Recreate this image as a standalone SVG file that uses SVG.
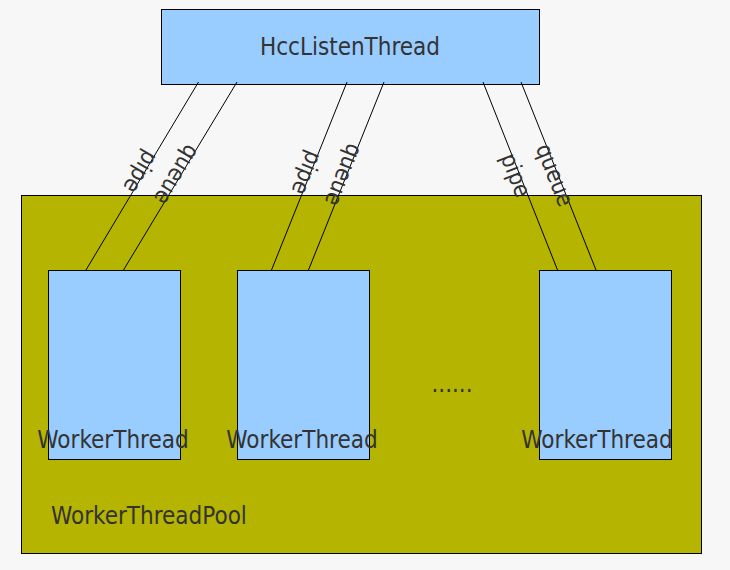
<svg xmlns="http://www.w3.org/2000/svg" width="730" height="570" viewBox="0 0 730 570">
<style>
.box{fill:#99ccff;stroke:#000;stroke-width:1}
.t{font-family:"DejaVu Sans Condensed","DejaVu Sans",sans-serif;font-size:24px;fill:#333333;font-stretch:condensed}
.lbl{font-family:"DejaVu Sans Condensed","DejaVu Sans",sans-serif;font-size:23px;fill:#333333;text-anchor:middle;dominant-baseline:central}
.c{stroke:#000;stroke-width:1;fill:none}
</style>
<rect x="0" y="0" width="730" height="570" fill="#f7f7f7"/>
<g id="pool">
<rect x="21.5" y="195.5" width="680" height="358" fill="#b5b400" stroke="#000" stroke-width="1"/>
<text class="t" x="51" y="524">WorkerThreadPool</text>
</g>
<g id="listen">
<rect class="box" x="161.5" y="9.5" width="378" height="75"/>
<text class="t" x="350" y="55" text-anchor="middle">HccListenThread</text>
</g>
<g id="worker1">
<rect class="box" x="48.5" y="270.5" width="132" height="189"/>
<text class="t" x="113" y="448" text-anchor="middle">WorkerThread</text>
</g>
<g id="worker2">
<rect class="box" x="237.5" y="270.5" width="132" height="189"/>
<text class="t" x="302" y="448" text-anchor="middle">WorkerThread</text>
</g>
<g id="worker3">
<rect class="box" x="539.5" y="270.5" width="132" height="189"/>
<text class="t" x="597" y="448" text-anchor="middle">WorkerThread</text>
</g>
<g id="ellipsis">
<text class="t" x="452" y="392" text-anchor="middle" font-size="20">......</text>
</g>
<g id="connectors">
<line class="c" x1="198.5" y1="82" x2="86" y2="270"/>
<line class="c" x1="237" y1="82" x2="123.5" y2="270"/>
<line class="c" x1="347" y1="82" x2="271.5" y2="270"/>
<line class="c" x1="384" y1="82" x2="308.5" y2="270"/>
<line class="c" x1="483" y1="82" x2="557.5" y2="270"/>
<line class="c" x1="521" y1="82" x2="596" y2="270"/>
<text class="lbl" transform="translate(141,172) rotate(120.8)">pipe</text>
<text class="lbl" transform="translate(177,175) rotate(121.2)">queue</text>
<text class="lbl" transform="translate(307,173) rotate(111.8)">pipe</text>
<text class="lbl" transform="translate(344,175) rotate(111.8)">queue</text>
<text class="lbl" transform="translate(516,175) rotate(68.5)">pipe</text>
<text class="lbl" transform="translate(555,175) rotate(68.3)">queue</text>
</g>
</svg>
